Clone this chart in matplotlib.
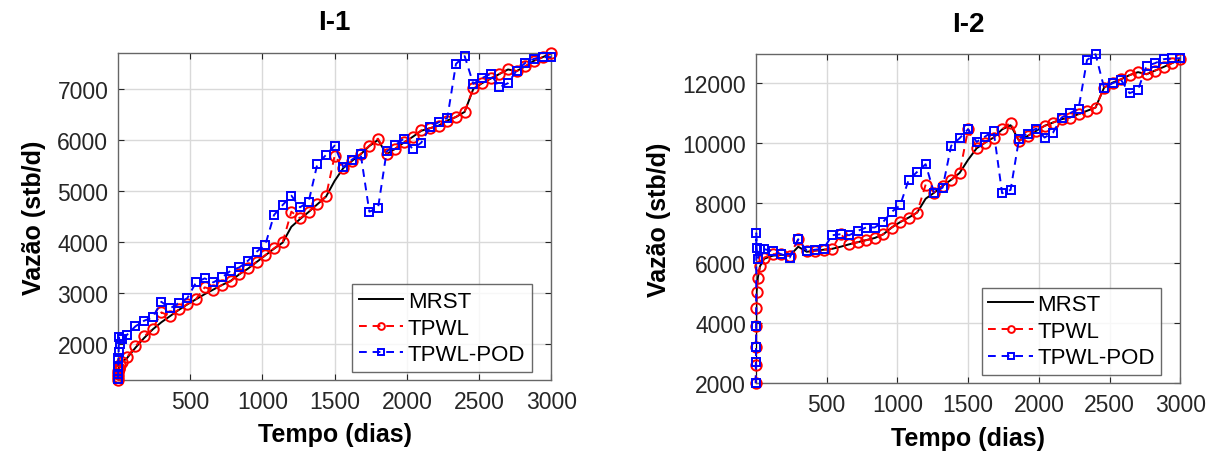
import matplotlib.pyplot as plt
import numpy as np

plt.rcParams['font.family'] = ['Liberation Sans', 'DejaVu Sans']

# tempos de simulação (dias)
tempo = [0, 1, 2, 3, 4, 6, 15, 30] + list(range(60, 3001, 60))

# poço I-1
mrst_i1 = [1300, 1360, 1420, 1470, 1510, 1540, 1600, 1660,
           1720, 1930, 2120, 2290, 2430, 2550, 2670, 2780, 2880, 2980,
           3070, 3160, 3240, 3370, 3480, 3610, 3740, 3870, 3990, 4300,
           4450, 4590, 4740, 4890, 5200, 5450, 5590, 5720, 5880, 6000,
           5720, 5830, 5950, 6060, 6180, 6230, 6280, 6380, 6450, 6550,
           7000, 7110, 7200, 7290, 7380, 7350, 7440, 7550, 7620, 7700]
tpwl_i1 = [1300, 1360, 1420, 1470, 1510, 1540, 1600, 1660,
           1741, 1957, 2153, 2296, 2623, 2550, 2680, 2786, 2884, 3113,
           3067, 3158, 3230, 3374, 3485, 3615, 3746, 3878, 3995, 4595,
           4466, 4595, 4746, 4897, 5693, 5450, 5590, 5726, 5889, 6025,
           5726, 5830, 5955, 6060, 6190, 6230, 6280, 6380, 6450, 6556,
           7013, 7118, 7210, 7294, 7392, 7345, 7445, 7555, 7621, 7706]
pod_i1 = [1314, 1420, 1560, 1722, 1840, 2133, 2000, 2100,
          2178, 2349, 2459, 2525, 2831, 2701, 2806, 2904, 3211, 3289,
          3211, 3309, 3439, 3505, 3635, 3811, 3949, 4530, 4726, 4909,
          4681, 4792, 5530, 5706, 5889, 5465, 5615, 5726, 4595, 4661,
          5775, 5900, 6027, 5824, 5948, 6249, 6347, 6432, 7490, 7641,
          7098, 7210, 7294, 7033, 7111, 7359, 7510, 7588, 7621, 7621]

# poço I-2
mrst_i2 = [2000, 2600, 3200, 3900, 4500, 5050, 5520, 5900,
           6150, 6250, 6280, 6250, 6550, 6380, 6420, 6450, 6480, 6550,
           6630, 6700, 6770, 6840, 6960, 7190, 7370, 7520, 7690, 8150,
           8350, 8580, 8780, 9010, 9450, 9830, 10020, 10190, 10460, 10600,
           10080, 10240, 10410, 10580, 10690, 10800, 10860, 10970, 11080, 11190,
           11850, 12020, 12130, 12270, 12370, 12300, 12420, 12540, 12670, 12800]
tpwl_i2 = [2000, 2600, 3200, 3900, 4500, 5050, 5520, 5910,
           6190, 6300, 6300, 6244, 6800, 6400, 6420, 6450, 6480, 6980,
           6633, 6700, 6767, 6833, 6967, 7189, 7378, 7522, 7690, 8620,
           8356, 8578, 8780, 9011, 10467, 9830, 10022, 10189, 10467, 10689,
           10078, 10244, 10411, 10578, 10689, 10800, 10856, 10967, 11078, 11189,
           11856, 12022, 12133, 12267, 12378, 12300, 12420, 12540, 12670, 12800]
pod_i2 = [2000, 2690, 3200, 3910, 7000, 6520, 6130, 6480,
          6467, 6400, 6300, 6189, 6800, 6420, 6450, 6490, 6933, 6967,
          6933, 7078, 7190, 7190, 7378, 7711, 7933, 8778, 9044, 9300,
          8333, 8522, 9911, 10167, 10467, 10044, 10222, 10411, 8333, 8444,
          10156, 10322, 10489, 10189, 10356, 10856, 11000, 11156, 12778, 12967,
          11856, 12000, 12111, 11667, 11778, 12578, 12667, 12800, 12833, 12833]

titulos = ['I-1', 'I-2']
yticks = [np.arange(2000, 7001, 1000), np.arange(2000, 12001, 2000)]

fig = plt.figure(figsize=(12.17, 4.64), dpi=100)
ax1 = fig.add_axes([0.097, 0.179, 0.356, 0.705])
ax2 = fig.add_axes([0.621, 0.172, 0.349, 0.709])

dados = [(mrst_i1, tpwl_i1, pod_i1), (mrst_i2, tpwl_i2, pod_i2)]
tracejado = (4.0, 3.0)

for k, ax in enumerate([ax1, ax2]):
    mrst, tpwl, pod = dados[k]
    ax.plot(tempo, mrst, '-', color='k', lw=1.4, label='MRST', zorder=3)
    ax.plot(tempo, tpwl, '--', dashes=tracejado, color='r', lw=1.4,
            marker='o', ms=7.5, mfc='none', mew=1.4, label='TPWL',
            zorder=4, clip_on=False)
    ax.plot(tempo, pod, '--', dashes=tracejado, color='b', lw=1.4,
            marker='s', ms=6, mfc='none', mew=1.4, label='TPWL-POD',
            zorder=5, clip_on=False)

    todos = np.concatenate([mrst, tpwl, pod])
    ax.set_xlim(0, 3000)
    ax.set_ylim(todos.min(), todos.max())
    ax.set_xticks(np.arange(500, 3001, 500))
    ax.set_yticks(yticks[k])
    ax.grid(True, color='#d9d9d9', lw=1.0)
    ax.set_axisbelow(True)
    ax.tick_params(direction='in', top=True, right=True, labelsize=16.5,
                   colors='#262626', length=4, pad=7)
    for s in ax.spines.values():
        s.set_color('#666666')
        s.set_linewidth(1.0)

    ax.set_title(titulos[k], fontsize=20, fontweight='bold', pad=17)
    ax.set_xlabel('Tempo (dias)', fontsize=18, fontweight='bold', labelpad=7)
    ax.set_ylabel('Vazão (stb/d)', fontsize=18, fontweight='bold', labelpad=8)

    leg = ax.legend(loc='lower right', bbox_to_anchor=(0.955, 0.025),
                    fontsize=16, numpoints=1, fancybox=False,
                    handlelength=2.0, handletextpad=0.2, labelspacing=0.25,
                    borderpad=0.3, borderaxespad=0.0, markerscale=0.65)
    leg.get_frame().set_edgecolor('#444444')
    leg.get_frame().set_linewidth(1.0)

fig.savefig('out.png', dpi=100)
